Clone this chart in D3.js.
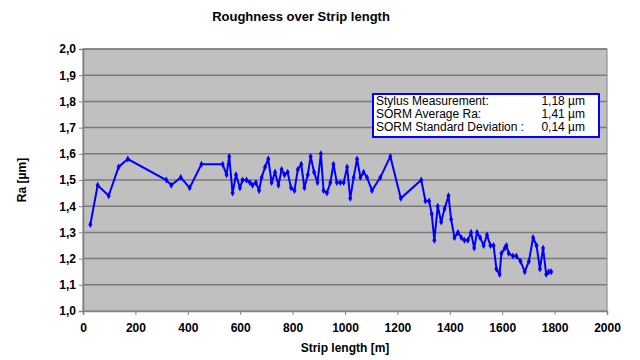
<!DOCTYPE html>
<html>
<head>
<meta charset="utf-8">
<script src="https://cdn.jsdelivr.net/npm/d3@7"></script>
<style>
  html, body { margin: 0; padding: 0; background: #fff; }
  svg { display: block; font-family: "Liberation Sans", Arial, sans-serif; }
</style>
</head>
<body>
<div id="chart"></div>
<script>
// strip position [m] and measured roughness Ra [µm]
const stripLength = [28, 56, 98, 136, 171, 318, 337, 373, 407, 452, 533, 548, 558, 571, 584,
  599, 609, 624, 637, 647, 660, 672, 682, 695, 707, 720, 733, 746, 758, 769, 781, 794, 807,
  820, 833, 845, 858, 869, 882, 895, 908, 918, 931, 944, 956, 969, 982, 995, 1008, 1020,
  1033, 1046, 1059, 1071, 1084, 1103, 1135, 1173, 1213, 1291, 1307, 1321, 1331, 1341, 1354,
  1367, 1380, 1395, 1405, 1418, 1431, 1444, 1456, 1469, 1481, 1493, 1504, 1516, 1529, 1542,
  1555, 1567, 1578, 1590, 1597, 1610, 1616, 1625, 1641, 1654, 1670, 1686, 1702, 1718, 1731,
  1744, 1756, 1768, 1778, 1787];
const roughness = [1.33, 1.48, 1.44, 1.55, 1.58, 1.50, 1.48, 1.51, 1.47, 1.56, 1.56, 1.52,
  1.59, 1.45, 1.52, 1.47, 1.50, 1.50, 1.49, 1.48, 1.49, 1.46, 1.51, 1.55, 1.58, 1.49, 1.53,
  1.48, 1.54, 1.52, 1.53, 1.47, 1.46, 1.54, 1.56, 1.47, 1.52, 1.59, 1.53, 1.49, 1.60, 1.46,
  1.45, 1.49, 1.56, 1.49, 1.49, 1.49, 1.55, 1.43, 1.51, 1.58, 1.51, 1.53, 1.51, 1.46, 1.51,
  1.59, 1.43, 1.50, 1.42, 1.42, 1.37, 1.27, 1.40, 1.34, 1.39, 1.44, 1.35, 1.28, 1.30, 1.28,
  1.27, 1.27, 1.30, 1.24, 1.30, 1.28, 1.25, 1.29, 1.25, 1.25, 1.16, 1.14, 1.22, 1.24, 1.25,
  1.22, 1.21, 1.21, 1.19, 1.15, 1.19, 1.28, 1.25, 1.16, 1.24, 1.14, 1.15, 1.15];

const xTicks = [0, 200, 400, 600, 800, 1000, 1200, 1400, 1600, 1800, 2000];
const yTicks = [1.0, 1.1, 1.2, 1.3, 1.4, 1.5, 1.6, 1.7, 1.8, 1.9, 2.0];

const legendLabels = ['Stylus Measurement:', 'SORM Average Ra:', 'SORM Standard Deviation :'];
const legendValues = ['1,18 µm', '1,41 µm', '0,14 µm'];

const width = 640, height = 360;
const plot = { left: 83, right: 607, top: 49, bottom: 311 };

const svg = d3.select('#chart').append('svg')
  .attr('width', width)
  .attr('height', height);

const x = d3.scaleLinear().domain([0, 2000]).range([plot.left, plot.right]);
const y = d3.scaleLinear().domain([1.0, 2.0]).range([plot.bottom, plot.top]);

const comma = d3.formatLocale({ decimal: ',', thousands: '.', grouping: [3], currency: ['', ''] }).format('.1f');

// plot area
svg.append('rect')
  .attr('x', plot.left).attr('y', plot.top)
  .attr('width', plot.right - plot.left).attr('height', plot.bottom - plot.top)
  .attr('fill', '#c0c0c0')
  .attr('stroke', '#808080');

// gridlines
svg.append('g')
  .selectAll('line')
  .data(yTicks.slice(1))
  .join('line')
  .attr('x1', plot.left).attr('x2', plot.right)
  .attr('y1', d => y(d)).attr('y2', d => y(d))
  .attr('stroke', '#7a7a7a')
  .attr('stroke-width', 1.5);

// axes
const xAxis = svg.append('g')
  .attr('transform', `translate(0,${plot.bottom})`)
  .call(d3.axisBottom(x).tickValues(xTicks).tickSize(4).tickPadding(8).tickFormat(d3.format('d')));
const yAxis = svg.append('g')
  .attr('transform', `translate(${plot.left},0)`)
  .call(d3.axisLeft(y).tickValues(yTicks).tickSize(4).tickPadding(3).tickFormat(comma));

[xAxis, yAxis].forEach(a => {
  a.select('.domain').attr('stroke', '#808080').attr('stroke-width', 1.5);
  a.selectAll('.tick line').attr('stroke', '#808080');
  a.selectAll('.tick text')
    .attr('fill', '#000')
    .attr('font-size', 12)
    .attr('font-weight', 'bold')
    .attr('font-family', '"Liberation Sans", Arial, sans-serif');
});

// data line
const pts = stripLength.map((d, i) => ({ m: d, ra: roughness[i] }));
const line = d3.line().x(d => x(d.m)).y(d => y(d.ra));

svg.append('path')
  .datum(pts)
  .attr('d', line)
  .attr('fill', 'none')
  .attr('stroke', '#0000ff')
  .attr('stroke-width', 2);

svg.append('g')
  .selectAll('path')
  .data(pts)
  .join('path')
  .attr('transform', d => `translate(${x(d.m)},${y(d.ra)})`)
  .attr('d', d3.symbol(d3.symbolDiamond, 14))
  .attr('fill', '#0000ff');

// info box
const box = svg.append('g');
box.append('rect')
  .attr('x', 373).attr('y', 94)
  .attr('width', 226).attr('height', 43)
  .attr('fill', '#fff')
  .attr('stroke', '#0000ff')
  .attr('stroke-width', 2);
legendLabels.forEach((t, i) => {
  box.append('text')
    .attr('x', 376).attr('y', 105 + i * 13)
    .attr('font-size', 12)
    .text(t);
  box.append('text')
    .attr('x', 585).attr('y', 105 + i * 13)
    .attr('text-anchor', 'end')
    .attr('font-size', 12)
    .text(legendValues[i]);
});

// titles
svg.append('text')
  .attr('x', 301).attr('y', 21)
  .attr('text-anchor', 'middle')
  .attr('font-size', 13)
  .attr('font-weight', 'bold')
  .text('Roughness over Strip length');

svg.append('text')
  .attr('x', 345).attr('y', 352)
  .attr('text-anchor', 'middle')
  .attr('font-size', 12)
  .attr('font-weight', 'bold')
  .text('Strip length [m]');

svg.append('text')
  .attr('transform', 'translate(26,180) rotate(-90)')
  .attr('text-anchor', 'middle')
  .attr('font-size', 12)
  .attr('font-weight', 'bold')
  .text('Ra [µm]');
</script>
</body>
</html>
